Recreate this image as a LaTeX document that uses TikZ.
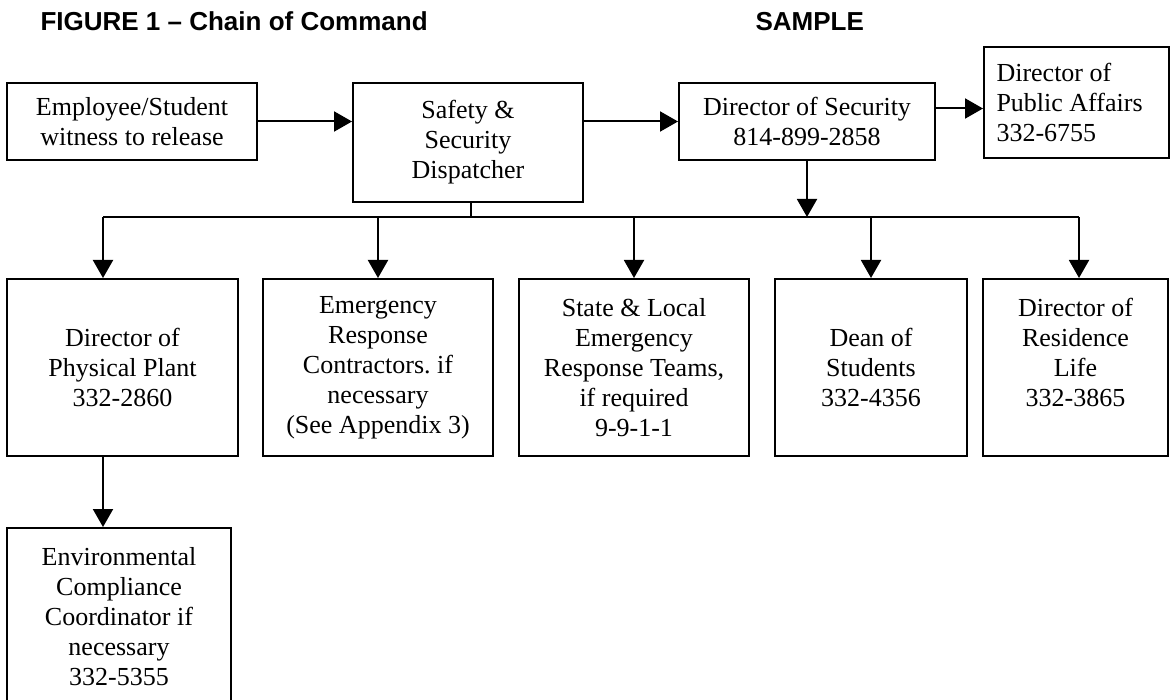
\documentclass[tikz,border=0pt]{standalone}
\usepackage{fontspec}
\setmainfont{Liberation Serif}
\newfontfamily\headfont{Liberation Sans}
\usetikzlibrary{arrows.meta}

\begin{document}
\begin{tikzpicture}[x=1pt,y=-1pt,
  box/.style={draw,line width=2pt,align=center,inner sep=0pt,
    minimum height=177pt,font=\fontsize{26}{30}\selectfont},
  head/.style={anchor=base west,font=\headfont\bfseries\fontsize{26}{30}\selectfont},
  link/.style={line width=2pt},
  arr/.style={link,-{Triangle[length=18pt,width=20pt]}}]
\useasboundingbox (0,0) rectangle (1172,700);
\node[head] (title) at (37,31) {FIGURE 1 – Chain of Command};
\node[head] (sample) at (752,31) {SAMPLE};
% top row
\node[box,minimum width=250pt,minimum height=77pt] (emp) at (132,121.5) {Employee/Student\\witness to release};
\node[box,minimum width=230pt,minimum height=119pt] (safety) at (468,142.5) {Safety \&\\Security\\Dispatcher};
\node[box,minimum width=256pt,minimum height=77pt] (dirsec) at (807,121.5) {Director of Security\\814-899-2858};
\node[box,anchor=west,minimum height=111pt,text width=160pt,align=flush left,inner xsep=12.5pt] (pubaff) at (983,102.5) {Director of\\Public Affairs\\332-6755};
% second row
\node[box,minimum width=231pt] (phys) at (122.5,367.5) {Director of\\Physical Plant\\332-2860};
\node[box,minimum width=230pt] (emerg) at (378,367.5) {Emergency\\Response\\Contractors.\ if\\necessary\\(See Appendix 3)};
\node[box,minimum width=230pt] (state) at (634,367.5) {State \& Local\\Emergency\\Response Teams,\\if required\\9-9-1-1};
\node[box,minimum width=192pt] (dean) at (871,367.5) {Dean of\\Students\\332-4356};
\node[box,minimum width=185pt] (resid) at (1075.5,367.5) {Director of\\Residence\\Life\\332-3865\\\mbox{}};
% third row
\node[box,minimum width=224pt] (env) at (119,616.5) {Environmental\\Compliance\\Coordinator if\\necessary\\332-5355};
% connectors
\coordinate (busL) at (103,217);
\coordinate (busR) at (1079,217);
\coordinate (tap) at (471,217);
\draw[arr] (emp.east) -- (emp.east -| safety.west);
\draw[arr] (safety.east |- dirsec.west) -- (dirsec.west);
\draw[arr] ([yshift=13pt]dirsec.east) -- ([yshift=13pt]dirsec.east -| pubaff.west);
\draw[link] (tap |- safety.south) -- (tap);
\draw[link] (busL) -- (busR);
\draw[arr] (dirsec.south) -- (dirsec.south |- busL);
\draw[arr] (busL) -- (busL |- phys.north);
\draw[arr] (emerg.north |- busL) -- (emerg.north);
\draw[arr] (state.north |- busL) -- (state.north);
\draw[arr] (dean.north |- busL) -- (dean.north);
\draw[arr] (busR) -- (busR |- resid.north);
\draw[arr] (busL |- phys.south) -- (busL |- env.north);
\end{tikzpicture}
\end{document}
